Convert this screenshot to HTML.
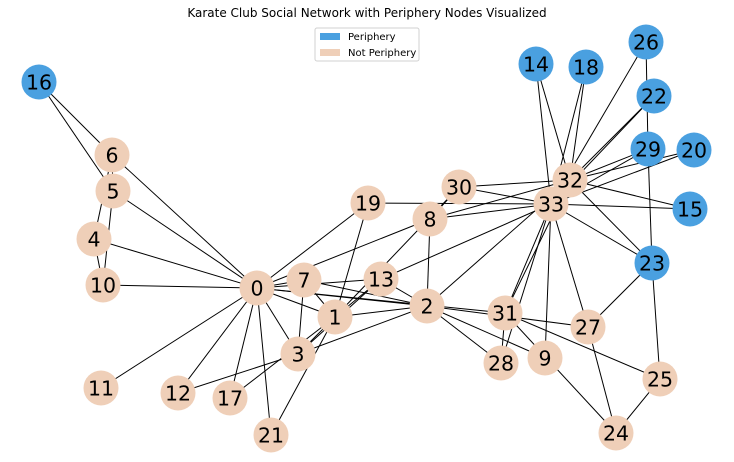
<!DOCTYPE html>
<html><head><meta charset="utf-8">
<style>
html,body{margin:0;padding:0;background:#fff;}
svg{display:block;}
</style></head>
<body>
<svg id="chart" width="734" height="462" viewBox="0 0 734 462" xmlns="http://www.w3.org/2000/svg">
<text x="367" y="17" text-anchor="middle" font-family="DejaVu Sans, Liberation Sans, sans-serif" font-size="12">Karate Club Social Network with Periphery Nodes Visualized</text>
<g id="edges"></g>
<g id="nodes"></g>
<g>
<rect x="315" y="28" width="104" height="33" rx="2" fill="#fff" stroke="#d0d0d0" stroke-width="1"/>
<rect x="320" y="33" width="20" height="7" fill="#4aa0e0"/>
<text x="348" y="40" font-family="DejaVu Sans, Liberation Sans, sans-serif" font-size="10">Periphery</text>
<rect x="320" y="49" width="20" height="7" fill="#efcfb8"/>
<text x="348" y="56" font-family="DejaVu Sans, Liberation Sans, sans-serif" font-size="10">Not Periphery</text>
</g>
</svg>
<script>
const nodeX = [257,335,427,298,94,113,112,304,430,545,103,101,178,381,536,690,39,230,586,368,694,271,654,652,616,660,646,588,501,648,459,505,570,551];
const nodeY = [288,317,306,354,239,191,155,280,219,358,285,388,393,279,64,209,82,398,67,203,150,435,96,263,433,379,42,327,363,149,187,313,180,204];
const periphery = [14,15,16,18,20,22,23,26,29];
const edgeList = [[0,1],[0,2],[0,3],[0,4],[0,5],[0,6],[0,7],[0,8],[0,10],[0,11],[0,12],[0,13],[0,17],[0,19],[0,21],[0,31],
[1,2],[1,3],[1,7],[1,13],[1,17],[1,19],[1,21],[1,30],
[2,3],[2,7],[2,8],[2,9],[2,13],[2,27],[2,28],[2,32],
[3,7],[3,12],[3,13],[4,6],[4,10],[5,6],[5,10],[5,16],[6,16],
[8,30],[8,32],[8,33],[9,33],[13,33],[14,32],[14,33],[15,32],[15,33],[18,32],[18,33],[19,33],
[20,32],[20,33],[22,32],[22,33],[23,25],[23,27],[23,29],[23,32],[23,33],
[24,25],[24,27],[24,31],[25,31],[26,29],[26,33],[27,33],[28,31],[28,33],[29,32],[29,33],[30,32],[30,33],[31,32],[31,33],[32,33]];
const NS="http://www.w3.org/2000/svg";
const eg=document.getElementById('edges'), ng=document.getElementById('nodes');
edgeList.forEach(([a,b])=>{
  const l=document.createElementNS(NS,'line');
  
  
  l.setAttribute('x1',nodeX[a]);l.setAttribute('y1',nodeY[a]);
  l.setAttribute('x2',nodeX[b]);l.setAttribute('y2',nodeY[b]);
  l.setAttribute('stroke','#000');l.setAttribute('stroke-width','1');
  eg.appendChild(l);
});
nodeX.forEach((x,i)=>{
  const g=document.createElementNS(NS,'g');
  
  
  const c=document.createElementNS(NS,'circle');
  c.setAttribute('cx',x);c.setAttribute('cy',nodeY[i]);c.setAttribute('r','17.5');
  c.setAttribute('fill',periphery.includes(i)?'#4aa0e0':'#efcfb8');
  g.appendChild(c);
  const t=document.createElementNS(NS,'text');
  
  
  t.setAttribute('x',x);t.setAttribute('y',nodeY[i]+7.5);
  t.setAttribute('text-anchor','middle');
  t.setAttribute('font-family','DejaVu Sans, Liberation Sans, sans-serif');
  t.setAttribute('font-size','20.5');
  t.textContent=i;
  g.appendChild(t);
  ng.appendChild(g);
});
</script>
</body></html>
